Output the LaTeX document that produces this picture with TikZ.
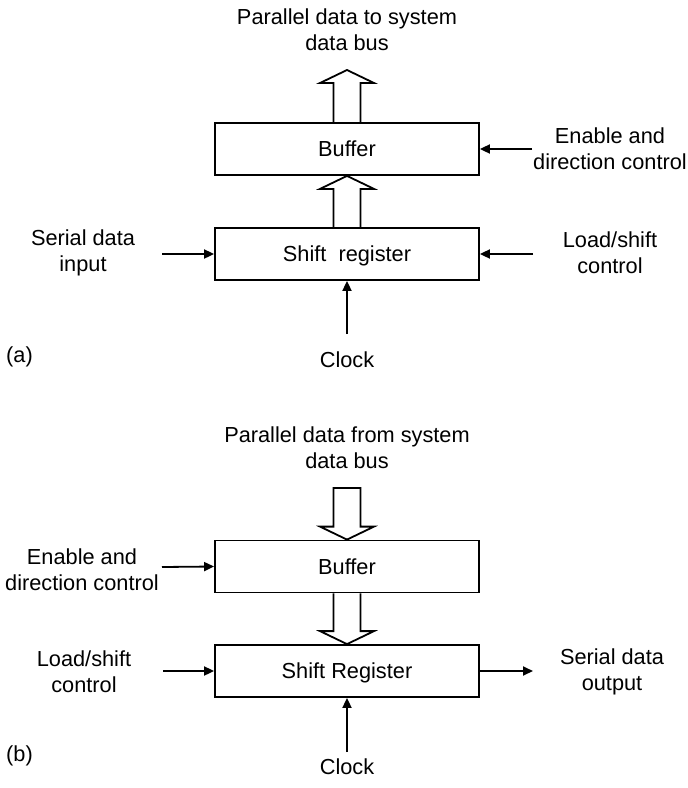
\documentclass[tikz,border=0pt]{standalone}
\usepackage{fontspec}
\setmainfont{Liberation Sans}
\usetikzlibrary{arrows.meta,calc}
\begin{document}
\begin{tikzpicture}[x=1pt,y=-1pt,
  lbl/.style={font=\fontsize{21.75}{26}\selectfont, inner sep=0pt, align=center},
  one/.style={lbl, text height=15.6pt, text depth=0pt},
  blk/.style={one, draw, line width=1.8pt, minimum width=264pt, minimum height=52pt},
  sig/.style={line width=1.8pt, -{Triangle[length=10pt,width=9pt]}},
  bus/.style={line width=1.8pt, line join=miter}]
\useasboundingbox (0,0) rectangle (688,788);

% ---------- (a) ----------
\node[lbl] (titleA) at (347,30) {Parallel data to system\\data bus};
\node[blk] (bufA) at (347,149) {Buffer};
\node[blk] (srA) at (347,254) {Shift\ \ register};
\node[lbl] (serA) at (83,253) {Serial data\\input};
\node[lbl] (ldA) at (610,253) {Load/shift\\control};
\node[lbl] (enA) at (610,148.5) {Enable and\\direction control};
\node[one] (clkA) at (347,359.5) {Clock};
\node[one] (labA) at (19.5,355) {(a)};

\coordinate (busAtop) at (347,70);
\coordinate (serAend) at (162,254);
\coordinate (ldAend) at (533,254);
\coordinate (enAend) at (532,149);
\coordinate (clkAend) at (347,334);

\draw[bus] ($(bufA.north)+(-13.5,0)$) -- ($(busAtop)+(-13.5,13)$) -- ($(busAtop)+(-27,13)$)
  -- (busAtop) -- ($(busAtop)+(27,13)$) -- ($(busAtop)+(13.5,13)$) -- ($(bufA.north)+(13.5,0)$);
\draw[bus] ($(srA.north)+(-13.5,0)$) -- ($(bufA.south)+(-13.5,13)$) -- ($(bufA.south)+(-27,13)$)
  -- (bufA.south) -- ($(bufA.south)+(27,13)$) -- ($(bufA.south)+(13.5,13)$) -- ($(srA.north)+(13.5,0)$);

\draw[sig] (serAend) -- (srA.west);
\draw[sig] (ldAend) -- (srA.east);
\draw[sig] (enAend) -- (bufA.east);
\draw[sig] (clkAend) -- (srA.south);

% ---------- (b) ----------
\node[lbl] (titleB) at (347,447.5) {Parallel data from system\\data bus};
\node[blk] (bufB) at (347,566.5) {Buffer};
\node[blk] (srB) at (347,671) {Shift Register};
\node[lbl] (enB) at (82,570) {Enable and\\direction control};
\node[lbl] (ldB) at (84,672) {Load/shift\\control};
\node[lbl] (outB) at (612,672) {Serial data\\output};
\node[one] (clkB) at (347,766.5) {Clock};
\node[one] (labB) at (19.5,754) {(b)};

\coordinate (busBtop) at (347,488);
\coordinate (enBend) at (162,567);
\coordinate (ldBend) at (163,671);
\coordinate (outBend) at (533,671);
\coordinate (clkBend) at (347,752);

\draw[bus] ($(busBtop)+(-13.5,0)$) -- ($(bufB.north)+(-13.5,-13)$) -- ($(bufB.north)+(-27,-13)$)
  -- (bufB.north) -- ($(bufB.north)+(27,-13)$) -- ($(bufB.north)+(13.5,-13)$) -- ($(busBtop)+(13.5,0)$) -- cycle;
\draw[bus] ($(bufB.south)+(-13.5,0)$) -- ($(srB.north)+(-13.5,-13)$) -- ($(srB.north)+(-27,-13)$)
  -- (srB.north) -- ($(srB.north)+(27,-13)$) -- ($(srB.north)+(13.5,-13)$) -- ($(bufB.south)+(13.5,0)$);

\draw[sig] (enBend) -- (bufB.west);
\draw[sig] (ldBend) -- (srB.west);
\draw[sig] (srB.east) -- (outBend);
\draw[sig] (clkBend) -- (srB.south);
\end{tikzpicture}
\end{document}
